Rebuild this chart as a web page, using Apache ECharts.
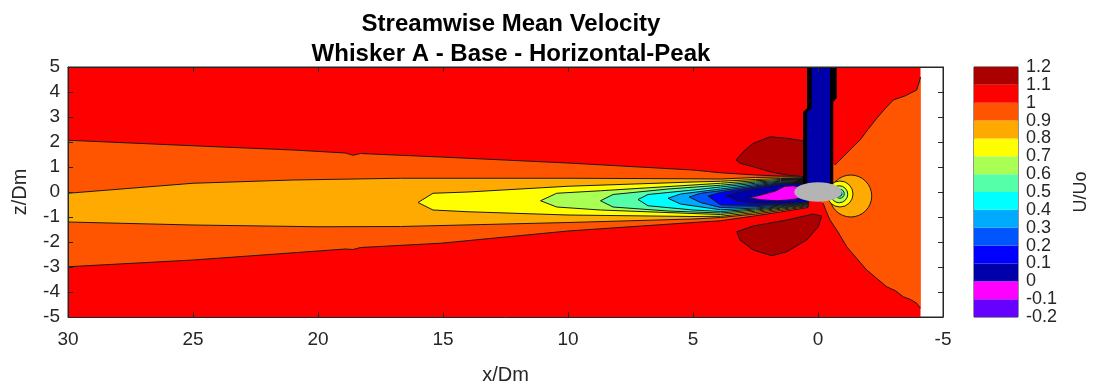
<!DOCTYPE html>
<html>
<head>
<meta charset="utf-8">
<script src="https://cdn.jsdelivr.net/npm/echarts@6/dist/echarts.min.js"></script>
<style>
  html, body { margin: 0; padding: 0; background: #fff; }
  #main { width: 1094px; height: 387px; }
</style>
</head>
<body>
<div id="main"></div>
<script>
// colour levels of U/Uo (colorbar)
const levels = [-0.2, -0.1, 0, 0.1, 0.2, 0.3, 0.4, 0.5, 0.6, 0.7, 0.8, 0.9, 1.0, 1.1, 1.2];
const bandColors = ['#6600ff', '#ff00ff', '#0000aa', '#0000ff', '#0055ff', '#00aaff', '#00ffff',
                    '#55ffaa', '#aaff55', '#ffff00', '#ffaa00', '#ff5500', '#ff0000', '#aa0000'];

// contour regions, in (x/Dm, z/Dm)
const farField = [[30, -5], [30, 5], [-4.1, 5], [-4.1, -5]];             // 1.0 - 1.1
const nearRight = [[-0.6, 1.1], [-0.68, 1.08], [-1.01, 1.41], [-1.35, 1.75], [-1.68, 2.08], [-2.0, 2.5],
  [-2.35, 2.95], [-2.7, 3.35], [-3.01, 3.68], [-3.5, 3.85], [-3.95, 4.08], [-4.05, 4.4], [-4.1, 4.6],
  [-4.1, -4.65], [-3.95, -4.45], [-3.7, -4.3], [-3.41, -4.19], [-3.1, -3.95], [-2.75, -3.79], [-2.4, -3.5],
  [-1.95, -3.12], [-1.5, -2.6], [-1.15, -2.19], [-0.8, -1.6], [-0.48, -1.12], [-0.3, -0.7], [-0.21, -0.45],
  [0, -0.3], [0, 0.3], [-0.6, 0.3]];                                      // 0.9 - 1.0
const nearRightTop = nearRight.slice(1, 13);
const nearRightBottom = nearRight.slice(13, 27);
const lobeUpper = [[3.28, 1.28], [2.95, 1.65], [2.59, 1.95], [1.92, 2.21], [1.25, 2.15], [0.59, 2.05],
  [0.5, 1.5], [0.59, 0.61], [1.25, 0.68], [1.92, 0.81], [2.59, 1.01], [3.12, 1.15]];   // 1.1 - 1.2
const lobeLower = [[3.25, -1.59], [2.59, -1.36], [1.25, -1.12], [0.19, -0.88], [-0.15, -0.96], [-0.01, -1.39],
  [0.45, -1.92], [1.25, -2.39], [1.85, -2.55], [2.59, -2.32], [3.12, -1.92]];
const wake10 = [[30, 2.07], [25, 1.85], [21, 1.68], [18.9, 1.56], [18.6, 1.47], [18.3, 1.54], [15.1, 1.4],
  [10, 1.16], [5, 0.88], [3.9, 0.77], [2.5, 0.68], [1.5, 0.64], [0.4, 0.62],
  [0.4, -0.62], [1.5, -0.8], [2.5, -0.95], [3.9, -1.15], [5, -1.22], [10, -1.56], [15.1, -2.05],
  [18.3, -2.22], [18.6, -2.3], [18.9, -2.28], [25, -2.72], [30, -2.99]];
const wake09 = [[30, -0.05], [25, 0.35], [21, 0.48], [16.7, 0.55], [10, 0.55], [5, 0.53], [3.9, 0.52],
  [2.5, 0.58], [1.5, 0.6], [0.4, 0.58],
  [0.4, -0.58], [1.5, -0.74], [2.5, -0.88], [3.9, -1.02], [5, -1.08], [10, -1.22], [16.7, -1.38],
  [20, -1.39], [25, -1.32], [30, -1.2]];
const wake08 = [[16, -0.42], [15.4, -0.05], [14, 0.0], [10, 0.23], [5, 0.4], [3.9, 0.43], [2.5, 0.5],
  [1.5, 0.54], [0.4, 0.54], [0.4, -0.55], [1.5, -0.69], [2.5, -0.82], [3.9, -0.97], [5, -0.98],
  [10, -0.92], [14, -0.79], [15.4, -0.72]];
const wake07 = [[11.1, -0.35], [10.45, -0.05], [8.7, 0.05], [5, 0.28], [3.9, 0.35], [2.5, 0.45], [1.5, 0.5],
  [0.4, 0.5], [0.4, -0.52], [1.5, -0.65], [2.5, -0.77], [3.9, -0.9], [5, -0.86], [8.7, -0.72], [10.45, -0.6]];
const wake06 = [[8.7, -0.35], [8.2, -0.1], [6, 0.12], [3.9, 0.27], [2.5, 0.4], [1.5, 0.46], [0.4, 0.47],
  [0.4, -0.5], [1.5, -0.62], [2.5, -0.72], [3.9, -0.84], [6, -0.76], [8.2, -0.6]];
const wake05 = [[7.2, -0.3], [6.8, -0.1], [5, 0.08], [3.9, 0.2], [2.5, 0.35], [1.5, 0.43], [0.4, 0.45],
  [0.4, -0.48], [1.5, -0.59], [2.5, -0.68], [3.9, -0.78], [5, -0.72], [6.8, -0.55]];
const wake04 = [[6.0, -0.25], [5.5, -0.08], [3.9, 0.12], [2.5, 0.3], [1.5, 0.4], [0.4, 0.43],
  [0.4, -0.46], [1.5, -0.56], [2.5, -0.64], [3.9, -0.71], [5.5, -0.48]];
const wake03 = [[5.15, -0.2], [4.7, -0.05], [3.9, 0.05], [2.5, 0.25], [1.5, 0.37], [0.4, 0.41],
  [0.4, -0.44], [1.5, -0.53], [2.5, -0.59], [3.9, -0.62], [4.7, -0.42]];
const wake02 = [[4.4, -0.16], [3.9, -0.02], [2.5, 0.2], [1.5, 0.34], [0.4, 0.39],
  [0.4, -0.42], [1.5, -0.5], [2.5, -0.54], [3.9, -0.52]];
const wake01 = [[3.7, -0.14], [3.2, 0.0], [2.5, 0.14], [1.5, 0.31], [0.4, 0.38],
  [0.4, -0.41], [1.5, -0.48], [2.5, -0.46], [3.2, -0.38]];
const wake00 = [[2.75, -0.23], [2.2, -0.1], [1.7, 0.04], [1.35, 0.22], [1.0, 0.25], [0.7, 0.2],
  [0.6, -0.24], [1.2, -0.32], [1.65, -0.35], [2.3, -0.31]];
// rings in front of the body: [x, z, radius]
const ringsFront = [[-1.31, -0.16, 0.84], [-0.88, -0.08, 0.52], [-0.85, -0.09, 0.34], [-0.87, -0.07, 0.18], [-0.86, -0.07, 0.1]];
const ringColors = ['#ffaa00', '#ffff00', '#aaff55', '#55ffaa', '#00ffff'];
// whisker stem and cross-section
const stemOuter = [[0.44, 5], [-0.75, 5], [-0.75, 3.76], [-0.61, 3.6], [-0.61, 0.3], [0.6, 0.3], [0.6, 3.2], [0.44, 3.35]];
const stemInner = [[0.25, 5], [-0.48, 5], [-0.48, 0.3], [0.43, 0.3], [0.43, 3.2], [0.25, 3.35]];
const stemFoot = [[1.05, 0.33], [0.55, 0.64], [0.45, 0.64], [0.45, 0.3]];
const section = [0, 0, 0.95, 0.39];  // cx, cz, rx, rz

const LINE = '#1a1a1a';
let layers = [
  {kind: 'poly', pts: farField, color: '#ff0000', stroke: false},
  {kind: 'poly', pts: nearRight, color: '#ff5500', stroke: false},
  {kind: 'line', pts: nearRightTop},
  {kind: 'line', pts: nearRightBottom},
  {kind: 'poly', pts: lobeUpper, color: '#aa0000', stroke: true},
  {kind: 'poly', pts: lobeLower, color: '#aa0000', stroke: true},
  {kind: 'poly', pts: wake10, color: '#ff5500', stroke: true},
  {kind: 'poly', pts: wake09, color: '#ffaa00', stroke: true},
  {kind: 'poly', pts: wake08, color: '#ffff00', stroke: true},
  {kind: 'poly', pts: wake07, color: '#aaff55', stroke: true},
  {kind: 'poly', pts: wake06, color: '#55ffaa', stroke: true},
  {kind: 'poly', pts: wake05, color: '#00ffff', stroke: true},
  {kind: 'poly', pts: wake04, color: '#00aaff', stroke: true},
  {kind: 'poly', pts: wake03, color: '#0055ff', stroke: true},
  {kind: 'poly', pts: wake02, color: '#0000ff', stroke: true},
  {kind: 'poly', pts: wake01, color: '#0000aa', stroke: true},
  {kind: 'poly', pts: wake00, color: '#ff00ff', stroke: true}
];
ringsFront.forEach((r, i) => layers.push({kind: 'circle', c: r, color: ringColors[i]}));
layers.push({kind: 'poly', pts: stemFoot, color: '#111111', stroke: false});
layers.push({kind: 'poly', pts: stemOuter, color: '#000000', stroke: false});
layers.push({kind: 'poly', pts: stemInner, color: '#0000aa', stroke: false});
layers.push({kind: 'ellipse', c: section, color: '#b4b4b4'});

function renderLayer(params, api) {
  const L = layers[params.dataIndex];
  if (L.kind === 'poly') {
    return {type: 'polygon', silent: true,
      shape: {points: L.pts.map(p => api.coord(p))},
      style: {fill: L.color, stroke: L.stroke ? LINE : null, lineWidth: 1}};
  }
  if (L.kind === 'line') {
    return {type: 'polyline', silent: true,
      shape: {points: L.pts.map(p => api.coord(p))},
      style: {fill: null, stroke: LINE, lineWidth: 1}};
  }
  if (L.kind === 'circle') {
    const c = api.coord([L.c[0], L.c[1]]);
    const r = api.size([L.c[2], 0])[0];
    return {type: 'circle', silent: true, shape: {cx: c[0], cy: c[1], r: r},
      style: {fill: L.color, stroke: LINE, lineWidth: 1}};
  }
  const c = api.coord([L.c[0], L.c[1]]);
  const rx = api.size([L.c[2], 0])[0];
  const ry = api.size([0, L.c[3]])[1];
  return {type: 'ellipse', silent: true, shape: {cx: c[0], cy: c[1], rx: rx, ry: ry},
    style: {fill: L.color, stroke: null}};
}

function renderBand(params, api) {
  const i = params.dataIndex;
  const p1 = api.coord([0, levels[i + 1]]);
  const p2 = api.coord([1, levels[i]]);
  return {type: 'rect', silent: true,
    shape: {x: p1[0], y: p1[1], width: p2[0] - p1[0], height: p2[1] - p1[1]},
    style: {fill: bandColors[i]}};
}

const FONT = 'Liberation Sans';
const TXT = '#262626';
const tickIn = {show: true, inside: true, length: 5, lineStyle: {color: TXT}};
const lineNoZero = {onZero: false, lineStyle: {color: TXT}};

let chart = echarts.init(document.getElementById('main'));
chart.setOption({
  animation: false,
  textStyle: {fontFamily: FONT},
  title: {
    text: 'Streamwise Mean Velocity\nWhisker A - Base - Horizontal-Peak',
    left: 506, top: 4, textAlign: 'center',
    textStyle: {fontFamily: FONT, fontSize: 24, fontWeight: 'bold', color: '#000', lineHeight: 30}
  },
  grid: [
    {left: 68, right: 151, top: 67, bottom: 70, show: true, borderColor: TXT, borderWidth: 1,
     backgroundColor: '#fff', outerBoundsMode: 'none'},
    {left: 974, width: 44, top: 67, height: 250, show: true, borderColor: TXT, borderWidth: 1,
     outerBoundsMode: 'none'}
  ],
  xAxis: [
    {type: 'value', gridIndex: 0, inverse: true, min: -5, max: 30, interval: 5, zlevel: 1,
     axisLine: lineNoZero, axisTick: tickIn, splitLine: {show: false},
     axisLabel: {color: TXT, fontSize: 19, margin: 13},
     name: 'x/Dm', nameLocation: 'middle', nameGap: 48,
     nameTextStyle: {color: TXT, fontSize: 20}},
    {type: 'value', gridIndex: 0, inverse: true, min: -5, max: 30, interval: 5, position: 'top', zlevel: 1,
     axisLine: lineNoZero, axisTick: tickIn, axisLabel: {show: false}, splitLine: {show: false}},
    {type: 'value', gridIndex: 1, min: 0, max: 1, show: false}
  ],
  yAxis: [
    {type: 'value', gridIndex: 0, min: -5, max: 5, interval: 1, zlevel: 1,
     axisLine: lineNoZero, axisTick: tickIn, splitLine: {show: false},
     axisLabel: {color: TXT, fontSize: 19, margin: 8},
     name: 'z/Dm', nameLocation: 'middle', nameGap: 38, nameRotate: 90,
     nameTextStyle: {color: TXT, fontSize: 20}},
    {type: 'value', gridIndex: 0, min: -5, max: 5, interval: 1, position: 'right', zlevel: 1,
     axisLine: lineNoZero, axisTick: tickIn, axisLabel: {show: false}, splitLine: {show: false}},
    {type: 'value', gridIndex: 1, min: -0.2, max: 1.2, interval: 0.1, position: 'right',
     axisLine: {show: false}, axisTick: {show: false}, splitLine: {show: false},
     axisLabel: {color: TXT, fontSize: 18, margin: 8, formatter: v => String(Math.round(v * 10) / 10)},
     name: 'U/Uo', nameLocation: 'middle', nameGap: 54, nameRotate: 90,
     nameTextStyle: {color: TXT, fontSize: 18}}
  ],
  series: [
    {type: 'custom', xAxisIndex: 0, yAxisIndex: 0, clip: true, z: 1,
     data: layers.map(() => [0, 0]), renderItem: renderLayer},
    {type: 'custom', xAxisIndex: 2, yAxisIndex: 2, z: 1,
     data: bandColors.map((c, i) => [0, levels[i]]), renderItem: renderBand}
  ]
});
</script>
</body>
</html>
